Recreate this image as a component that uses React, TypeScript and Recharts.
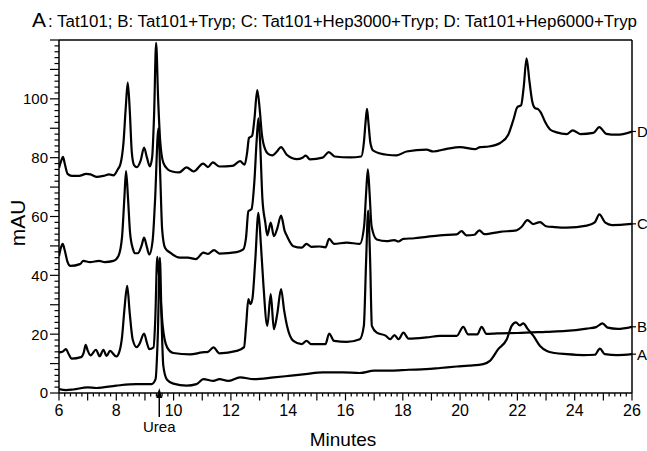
import React from 'react';
import { LineChart, Line, XAxis, YAxis, ReferenceLine, LabelList } from 'recharts';

// [minutes, mAU]
const traceA: [number, number][] = [
  [6.0, 1.3], [6.25, 1.0], [6.5, 1.2], [7.0, 1.9], [7.3, 1.7], [8.0, 2.5], [8.7, 3.0], [9.23, 3.0],
  [9.37, 4.7], [9.45, 20], [9.52, 46], [9.58, 25], [9.64, 9.3], [9.77, 4.5], [9.99, 3.2], [10.46, 2.5],
  [10.8, 3.0], [11.04, 4.7], [11.39, 4.1], [11.6, 4.7], [11.9, 4.1], [12.32, 5.3], [12.8, 4.7],
  [13.5, 5.3], [14.1, 5.9], [14.6, 6.4], [15.2, 7.0], [15.9, 7.0], [16.5, 6.8], [17.0, 7.6],
  [17.6, 7.6], [18.2, 7.9], [18.8, 8.1], [19.3, 8.5], [19.88, 9.0], [20.3, 9.3], [20.81, 9.8],
  [21.04, 10.9], [21.33, 14.9], [21.63, 18.3], [21.8, 22.8], [21.95, 24], [22.08, 23], [22.21, 23.7],
  [22.35, 21.9], [22.56, 19.4], [22.79, 16], [23.03, 14.3], [23.3, 13.6], [23.72, 13.2], [24.3, 12.9],
  [24.7, 13.0], [24.88, 15.1], [25.05, 13.2], [25.5, 12.9], [26.0, 13.2],
];

const traceB: [number, number][] = [
  [6.0, 13.8], [6.12, 14], [6.24, 14.9], [6.35, 13], [6.44, 11.7], [6.77, 12.2], [6.87, 14], [6.93, 16.4],
  [7.0, 14.5], [7.1, 12.8], [7.29, 14.7], [7.42, 12.5], [7.55, 14.7], [7.66, 12.6], [7.78, 14.3],
  [8.0, 12.4], [8.12, 14.5], [8.2, 19], [8.28, 28], [8.38, 36.4], [8.47, 27], [8.57, 18.3], [8.71, 15.6],
  [8.8, 16.5], [8.97, 20.2], [9.07, 17], [9.15, 14.9], [9.3, 15.5], [9.36, 25], [9.43, 46.3], [9.52, 36],
  [9.62, 22.8], [9.77, 15.6], [9.99, 13.6], [10.57, 13.1], [11.0, 13.8], [11.2, 14], [11.39, 15.5],
  [11.6, 13.5], [12.2, 14.3], [12.46, 15.6], [12.53, 22.8], [12.61, 31.9], [12.68, 30.2], [12.75, 32],
  [12.85, 45], [12.96, 61.2], [13.05, 50], [13.13, 37.5], [13.27, 22.8], [13.39, 33.6], [13.5, 21.7],
  [13.62, 27], [13.75, 35.3], [13.86, 28], [13.96, 22.8], [14.18, 17.7], [14.47, 16.6], [14.64, 17.7],
  [14.8, 16.6], [15.3, 16.6], [15.43, 20.2], [15.6, 17.7], [16.04, 17.4], [16.5, 18.3], [16.64, 22.8],
  [16.72, 45], [16.79, 62], [16.86, 45], [16.92, 22.8], [17.09, 20.5], [17.4, 19.5], [17.56, 18.3],
  [17.71, 19.7], [17.85, 18.3], [18.02, 20.5], [18.2, 18.5], [18.83, 18.9], [19.3, 19.4], [19.88, 19.4],
  [20.11, 22.5], [20.28, 19.9], [20.6, 19.9], [20.75, 22.5], [20.92, 20.1], [21.2, 20.2], [21.39, 20.3],
  [22.0, 20.4], [23.0, 20.8], [23.7, 21.1], [24.42, 21.9], [24.75, 22.4], [24.97, 23.7], [25.15, 22.2],
  [25.5, 21.8], [26.0, 22.5],
];

const traceC: [number, number][] = [
  [6.0, 46.5], [6.07, 49.5], [6.13, 50.7], [6.2, 48.5], [6.3, 44.5], [6.4, 43.2], [6.73, 43.8],
  [6.85, 44.9], [7.08, 44.5], [7.4, 44.9], [7.6, 44.5], [7.9, 44.9], [8.07, 46.5], [8.2, 53], [8.28, 66],
  [8.34, 75.4], [8.41, 66], [8.48, 54.5], [8.58, 49], [8.66, 47.5], [8.75, 47.5], [8.88, 50], [8.97, 52.8],
  [9.07, 49.5], [9.15, 47.1], [9.27, 52], [9.35, 65], [9.47, 90], [9.54, 72], [9.6, 55.6], [9.7, 49.4],
  [9.88, 47.7], [10.22, 46], [10.5, 46], [10.78, 45.5], [11.04, 47.7], [11.2, 47.3], [11.41, 48.6],
  [11.6, 47.4], [12.2, 47.9], [12.43, 48.8], [12.53, 53], [12.61, 61.8], [12.72, 62.5], [12.82, 72],
  [12.9, 86], [12.96, 93.4], [13.02, 85], [13.1, 66], [13.2, 58], [13.27, 53.6], [13.39, 57.9],
  [13.5, 53.3], [13.62, 56], [13.75, 60.3], [13.88, 55], [13.96, 53.3], [14.18, 49.9], [14.47, 49.4],
  [14.64, 50.7], [14.8, 49.7], [15.1, 49.8], [15.3, 49.5], [15.43, 52.4], [15.6, 50.7], [16.04, 51.1],
  [16.5, 50.7], [16.65, 56.7], [16.72, 68], [16.78, 76], [16.84, 68], [16.91, 56.7], [17.09, 52.2],
  [17.44, 51.6], [17.7, 52], [17.85, 51.5], [18.02, 52.4], [18.4, 52.6], [18.83, 53.1], [19.3, 53.6],
  [19.88, 53.9], [20.05, 55], [20.22, 53.6], [20.5, 53.8], [20.67, 55.3], [20.85, 54], [21.39, 54.8],
  [21.97, 55.3], [22.15, 56.5], [22.35, 58.8], [22.55, 57.4], [22.79, 58.1], [23.0, 56.7], [23.3, 56.4],
  [23.72, 56.2], [24.42, 56.9], [24.7, 58], [24.86, 60.7], [25.07, 57.9], [25.3, 57.1], [26.0, 57.5],
];

const traceD: [number, number][] = [
  [6.0, 76.5], [6.08, 79], [6.14, 80.3], [6.2, 78], [6.3, 74.5], [6.45, 73.8], [6.7, 73.8], [6.95, 74.5],
  [7.1, 74.3], [7.3, 73.5], [7.55, 73.8], [7.75, 74.3], [7.9, 74.0], [8.05, 76], [8.15, 78], [8.25, 85],
  [8.33, 97], [8.4, 105.5], [8.47, 96], [8.54, 82], [8.62, 77.5], [8.72, 76.8], [8.85, 79], [8.97, 83.4],
  [9.07, 80], [9.17, 77], [9.25, 80], [9.32, 95], [9.39, 119], [9.46, 100], [9.53, 86], [9.64, 78.3],
  [9.8, 76], [9.95, 75.3], [10.2, 75], [10.45, 76.7], [10.7, 75.3], [11.03, 78], [11.2, 76.8],
  [11.37, 78.4], [11.6, 77], [12.05, 77.2], [12.32, 78.8], [12.48, 77.6], [12.57, 82], [12.63, 86.7],
  [12.74, 87.4], [12.82, 93], [12.92, 103], [13.0, 97], [13.08, 88], [13.2, 82.7], [13.3, 81.3],
  [13.45, 80.8], [13.6, 82], [13.75, 83.6], [13.95, 81], [14.15, 79.8], [14.3, 79.5], [14.5, 80],
  [14.61, 80.7], [14.76, 79.4], [15.2, 80], [15.42, 81.9], [15.62, 80.4], [16.16, 80.1], [16.55, 80.4],
  [16.64, 85], [16.7, 92], [16.75, 96.6], [16.8, 92], [16.87, 85], [16.97, 82.4], [17.44, 81],
  [17.79, 80.8], [18.13, 82.1], [18.83, 82.7], [19.06, 82.1], [19.53, 83], [20.0, 83.6], [20.52, 82.9],
  [20.7, 83.6], [21.0, 83.8], [21.4, 85], [21.68, 87.8], [21.86, 92.9], [22.0, 97.2], [22.13, 97.8],
  [22.22, 104], [22.32, 113.8], [22.42, 106], [22.52, 99], [22.62, 96.8], [22.72, 96.5], [22.82, 95.3],
  [22.96, 92.3], [23.15, 89.5], [23.37, 88.6], [23.72, 88.0], [23.93, 89.3], [24.2, 88], [24.65, 88.4],
  [24.86, 90.4], [25.1, 88.1], [25.47, 87.8], [26.0, 88.9],
];

const traceNames = ['A', 'B', 'C', 'D'];
const xMajorTicks = [6, 8, 10, 12, 14, 16, 18, 20, 22, 24, 26];
const yMajorTicks = [0, 20, 40, 60, 80, 100];
const UREA_X = 9.5;

const FONT = '"Liberation Sans", Arial, sans-serif';

const xTicks = [
  ...Array.from({ length: 101 }, (_, i) => Math.round((6 + i * 0.2) * 10) / 10),
  UREA_X,
];
const yTicks = Array.from({ length: 61 }, (_, i) => i * 2);

const toRows = (pts: [number, number][]) => pts.map(([t, v]) => ({ t, v }));
const series = [traceA, traceB, traceC, traceD].map(toRows);

function XTick(props: any) {
  const { x, y, payload } = props;
  const v = payload.value as number;
  if (v === UREA_X) {
    // arrow + "Urea" marker under the axis
    return (
      <g>
        <line x1={x} x2={x} y1={y - 2} y2={y + 24} stroke="#000" strokeWidth={1.5} />
        <path d={`M${x - 3},${y + 5} L${x},${y - 5} L${x + 3},${y + 5} Z`} fill="#000" />
        <text x={x} y={y + 39} textAnchor="middle" fontSize={15} fontFamily={FONT} fill="#000">
          Urea
        </text>
      </g>
    );
  }
  const isInt = Math.abs(v - Math.round(v)) < 1e-6;
  const len = isInt ? 7.5 : 3.5;
  const labelled = xMajorTicks.includes(Math.round(v)) && isInt;
  return (
    <g>
      <line x1={x} x2={x} y1={y} y2={y + len} stroke="#000" strokeWidth={1.2} />
      {labelled && (
        <text x={x} y={y + 23} textAnchor="middle" fontSize={16} fontFamily={FONT} fill="#000">
          {Math.round(v)}
        </text>
      )}
    </g>
  );
}

function YTick(props: any) {
  const { x, y, payload } = props;
  const v = payload.value as number;
  const len = v % 10 === 0 ? 9 : 4.5;
  return (
    <g>
      <line x1={x - len} x2={x} y1={y} y2={y} stroke="#000" strokeWidth={1.2} />
      {yMajorTicks.includes(v) && (
        <text x={x - 11} y={y} dy="0.36em" textAnchor="end" fontSize={15} fontFamily={FONT} fill="#000">
          {v}
        </text>
      )}
    </g>
  );
}

function endLabel(name: string, count: number) {
  return (props: any) => {
    const { x, y, index } = props;
    if (index !== count - 1) return null;
    return (
      <g>
        <line x1={x} x2={x + 4} y1={y} y2={y} stroke="#000" strokeWidth={1.2} />
        <text x={x + 5} y={y} dy="0.36em" fontSize={15} fontFamily={FONT} fill="#000">
          {name}
        </text>
      </g>
    );
  };
}

export default function App() {
  return (
    <div style={{ position: 'absolute', left: 0, top: 0, width: 647, height: 451, background: '#fff' }}>
      <LineChart width={647} height={451} margin={{ top: 40, right: 15, bottom: 0, left: 0 }}>
        <XAxis
          type="number"
          dataKey="t"
          domain={[6, 26]}
          ticks={xTicks}
          interval={0}
          height={58}
          tickSize={0}
          tickMargin={0}
          tickLine={false}
          axisLine={{ stroke: '#000', strokeWidth: 1.5 }}
          tick={<XTick />}
          allowDataOverflow
        />
        <YAxis
          type="number"
          domain={[0, 120]}
          ticks={yTicks}
          interval={0}
          width={59}
          tickSize={0}
          tickMargin={0}
          tickLine={false}
          axisLine={{ stroke: '#000', strokeWidth: 1.5 }}
          tick={<YTick />}
          allowDataOverflow
        />
        <ReferenceLine y={120} stroke="#000" strokeWidth={1.5} />
        <ReferenceLine x={26} stroke="#000" strokeWidth={1.5} />
        {series.map((rows, i) => (
          <Line
            key={traceNames[i]}
            data={rows}
            dataKey="v"
            type="monotone"
            stroke="#000"
            strokeWidth={2.2}
            dot={false}
            activeDot={false}
            isAnimationActive={false}
          >
            <LabelList dataKey="v" content={endLabel(traceNames[i], rows.length)} />
          </Line>
        ))}
      </LineChart>
      <svg
        width={647}
        height={451}
        style={{ position: 'absolute', left: 0, top: 0, pointerEvents: 'none' }}
      >
        <text x={32} y={27} fontSize={21} fontFamily={FONT} fill="#000">
          A
        </text>
        <text
          x={48}
          y={27}
          fontSize={16}
          fontFamily={FONT}
          fill="#000"
          textLength={589}
          lengthAdjust="spacingAndGlyphs"
        >
          : Tat101; B: Tat101+Tryp; C: Tat101+Hep3000+Tryp; D: Tat101+Hep6000+Tryp
        </text>
        <text
          x={0}
          y={0}
          transform="translate(25,223) rotate(-90)"
          textAnchor="middle"
          fontSize={21}
          fontFamily={FONT}
          fill="#000"
        >
          mAU
        </text>
        <text x={343} y={446} textAnchor="middle" fontSize={19} fontFamily={FONT} fill="#000">
          Minutes
        </text>
      </svg>
    </div>
  );
}
